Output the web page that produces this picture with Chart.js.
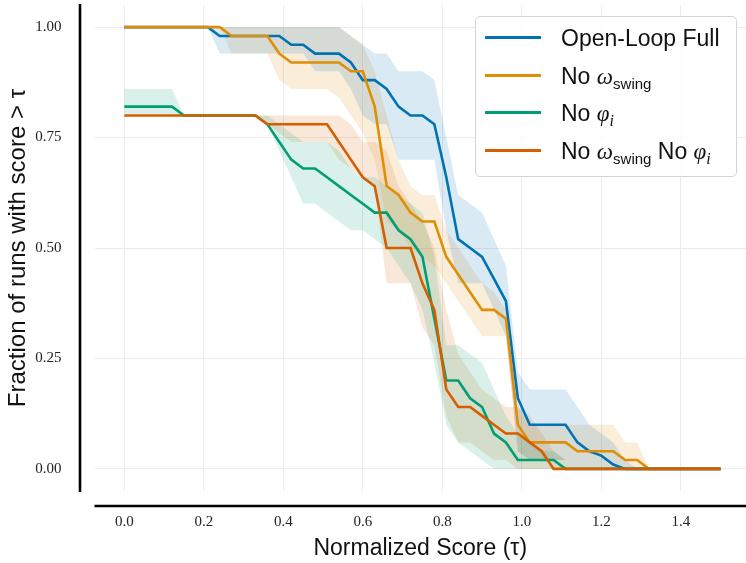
<!DOCTYPE html>
<html>
<head>
<meta charset="utf-8">
<script src="https://cdn.jsdelivr.net/npm/chart.js@4.4.1/dist/chart.umd.min.js"></script>
<style>
  body { margin: 0; background: #fff; }
  #wrap { position: relative; width: 746px; height: 563px; }
  #legend {
    position: absolute; left: 475px; top: 16px; width: 262px; height: 161px;
    box-sizing: border-box; border: 1px solid #d3d3d3; border-radius: 5px;
    background: rgba(255,255,255,0.85);
    font-family: "Liberation Sans", Arial, sans-serif; font-size: 23px; color: #111;
  }
  #legend .row { position: absolute; left: 0; height: 30px; width: 100%; }
  #legend .swatch { position: absolute; left: 9px; top: 13px; width: 56px; height: 3px; }
  #legend .txt { position: absolute; left: 85px; top: 1px; white-space: nowrap; line-height: 28px; }
  #legend i { font-family: "Liberation Serif", serif; font-style: italic; }
  #legend sub { font-size: 15px; vertical-align: -5px; line-height: 0; }
  #legend sub i { font-size: 16px; }
</style>
</head>
<body>
<div id="wrap">
  <canvas id="cdf" width="746" height="563"></canvas>
  <div id="legend"></div>
</div>
<script>
// score thresholds (tau)
var tau = [0.00, 0.03, 0.06, 0.09, 0.12, 0.15, 0.18, 0.21, 0.24, 0.27,
           0.30, 0.33, 0.36, 0.39, 0.42, 0.45, 0.48, 0.51, 0.54, 0.57,
           0.60, 0.63, 0.66, 0.69, 0.72, 0.75, 0.78, 0.81, 0.84, 0.87,
           0.90, 0.93, 0.96, 0.99, 1.02, 1.05, 1.08, 1.11, 1.14, 1.17,
           1.20, 1.23, 1.26, 1.29, 1.32, 1.35, 1.38, 1.41, 1.44, 1.47, 1.50];

var xTicks = [0.0, 0.2, 0.4, 0.6, 0.8, 1.0, 1.2, 1.4];
var yTicks = [0.00, 0.25, 0.50, 0.75, 1.00];

// Open-Loop Full
var fullMean = [1,1,1,1,1,1,1,1, 0.98,0.98,0.98,0.98,0.98,0.98, 0.96,0.96, 0.94,0.94,0.94, 0.92,
  0.88,0.88, 0.86, 0.82, 0.80,0.80, 0.78, 0.66, 0.52, 0.50, 0.48, 0.43, 0.38, 0.16,
  0.10,0.10,0.10,0.10, 0.06, 0.04, 0.03, 0.01, 0,0,0,0,0,0,0,0,0];
var fullHi = [1,1,1,1,1,1,1,1,1,1,1,1,1,1,1,1,1,1,1, 0.98, 0.96, 0.94,0.94, 0.90,0.90,0.90,
  0.88, 0.75, 0.62, 0.60, 0.58, 0.52, 0.46, 0.22, 0.18,0.18,0.18,0.18, 0.14, 0.10, 0.08, 0.06, 0.02,
  0,0,0,0,0,0,0,0];
var fullLo = [1,1,1,1,1,1,1,1, 0.94,0.94,0.94,0.94,0.94,0.94,0.94,0.94, 0.90,0.90,0.90, 0.86,
  0.80, 0.78,0.78, 0.70,0.70,0.70,0.70, 0.54, 0.42,0.42,0.42, 0.36, 0.30, 0.04,
  0.02,0.02,0.02,0.02, 0,0,0,0,0,0,0,0,0,0,0,0,0];

// No omega_swing
var noSwingMean = [1,1,1,1,1,1,1,1,1, 0.98,0.98,0.98,0.98, 0.94, 0.92,0.92,0.92,0.92,0.92,
  0.90,0.90, 0.82, 0.64, 0.62, 0.58, 0.56,0.56, 0.48, 0.44, 0.40, 0.36,0.36, 0.34, 0.10,
  0.06,0.06,0.06,0.06, 0.04,0.04,0.04,0.04, 0.02,0.02, 0,0,0,0,0,0,0];
var noSwingHi = [1,1,1,1,1,1,1,1,1,1,1,1,1,1,1,1,1,1,1, 0.98, 0.96, 0.90, 0.80, 0.70, 0.64,
  0.62,0.62, 0.54, 0.50, 0.46, 0.42, 0.40, 0.36, 0.14, 0.10,0.10,0.10,0.10,0.10,0.10,0.10,0.10,
  0.06,0.06, 0,0,0,0,0,0,0];
var noSwingLo = [1,1,1,1,1,1,1,1,1, 0.94,0.94,0.94,0.94, 0.88, 0.86,0.86,0.86,0.86, 0.84,
  0.80, 0.76, 0.70, 0.56, 0.54, 0.50, 0.48, 0.46, 0.42, 0.38, 0.34, 0.30,0.30,0.30, 0.04,
  0.02,0.02,0.02,0.02, 0,0,0,0,0,0,0,0,0,0,0,0,0];

// No phi_i
var noPhiMean = [0.82,0.82,0.82,0.82,0.82, 0.80,0.80,0.80,0.80,0.80,0.80,0.80, 0.78, 0.74,
  0.70, 0.68,0.68, 0.66, 0.64, 0.62, 0.60, 0.58,0.58, 0.54, 0.52, 0.48, 0.34, 0.20,0.20,
  0.16, 0.14, 0.08, 0.06, 0.02,0.02,0.02,0.02, 0,0,0,0,0,0,0,0,0,0,0,0,0,0];
var noPhiHi = [0.86,0.86,0.86,0.86,0.86, 0.80,0.80,0.80,0.80,0.80,0.80,0.80, 0.80, 0.78,
  0.76, 0.74,0.74,0.74, 0.72, 0.68, 0.66,0.66, 0.64, 0.62, 0.60, 0.58, 0.48, 0.28,0.28,
  0.26, 0.24, 0.18, 0.12, 0.08, 0.06, 0.04,0.04, 0.02, 0,0,0,0,0,0,0,0,0,0,0,0,0];
var noPhiLo = [0.80,0.80,0.80,0.80,0.80, 0.80,0.80,0.80,0.80,0.80,0.80,0.80, 0.78, 0.72,
  0.66, 0.60,0.60, 0.58, 0.56, 0.54,0.54, 0.52, 0.50, 0.46, 0.42, 0.36, 0.24, 0.10, 0.06,
  0.04, 0.02, 0,0,0,0,0,0,0,0,0,0,0,0,0,0,0,0,0,0,0,0];

// No omega_swing No phi_i
var noBothMean = [0.80,0.80,0.80,0.80,0.80,0.80,0.80,0.80,0.80,0.80,0.80,0.80,
  0.78,0.78,0.78,0.78,0.78,0.78, 0.74, 0.70, 0.66, 0.64, 0.50,0.50,0.50, 0.42, 0.36, 0.18,
  0.14,0.14, 0.12, 0.10, 0.08,0.08, 0.06, 0.04, 0,0,0,0,0,0,0,0,0,0,0,0,0,0,0];
var noBothHi = [0.80,0.80,0.80,0.80,0.80,0.80,0.80,0.80,0.80,0.80,0.80,0.80,0.80,0.80,
  0.80,0.80,0.80,0.80,0.80, 0.78, 0.74,0.74, 0.72, 0.64, 0.60, 0.56, 0.50, 0.36, 0.26, 0.22,
  0.18, 0.16, 0.14,0.14, 0.12, 0.08, 0.04, 0.02, 0,0,0,0,0,0,0,0,0,0,0,0,0];
var noBothLo = [0.80,0.80,0.80,0.80,0.80,0.80,0.80,0.80,0.80,0.80,0.80,0.80, 0.78, 0.76,
  0.74,0.74,0.74,0.74, 0.70, 0.68, 0.66, 0.64, 0.42,0.42,0.42, 0.32, 0.28, 0.12, 0.06,0.06,
  0.04, 0.02,0.02, 0,0,0,0,0,0,0,0,0,0,0,0,0,0,0,0,0,0];

var seriesLabels = ['Open-Loop Full', 'No ω_swing', 'No φ_i', 'No ω_swing No φ_i'];
var colors = ['#0173b2', '#de8f05', '#029e73', '#d55e00'];
var bandColors = ['rgba(1,115,178,0.15)', 'rgba(222,143,5,0.15)', 'rgba(2,158,115,0.15)', 'rgba(213,94,0,0.15)'];

function pts(arr) {
  return tau.map(function (t, i) { return { x: t, y: arr[i] }; });
}

// lines first in the list so they end up on top (red drawn last, like matplotlib)
var means = [fullMean, noSwingMean, noPhiMean, noBothMean];
var his = [fullHi, noSwingHi, noPhiHi, noBothHi];
var los = [fullLo, noSwingLo, noPhiLo, noBothLo];

var datasets = [];
for (var k = 3; k >= 0; k--) {
  datasets.push({
    label: seriesLabels[k],
    data: pts(means[k]),
    borderColor: colors[k],
    borderWidth: 2.6,
    pointRadius: 0,
    tension: 0,
    fill: false
  });
}
for (var k = 0; k < 4; k++) {
  datasets.push({
    label: seriesLabels[k] + ' lo',
    data: pts(los[k]),
    borderWidth: 0,
    borderColor: 'rgba(0,0,0,0)',
    pointRadius: 0,
    fill: false
  });
  datasets.push({
    label: seriesLabels[k] + ' hi',
    data: pts(his[k]),
    borderWidth: 0,
    borderColor: 'rgba(0,0,0,0)',
    backgroundColor: bandColors[k],
    pointRadius: 0,
    fill: '-1'
  });
}

// offset spines like seaborn despine(offset=...)
var spines = {
  id: 'spines',
  afterDraw: function (chart) {
    var ctx = chart.ctx, a = chart.chartArea;
    ctx.save();
    ctx.strokeStyle = '#000';
    ctx.lineWidth = 2.6;
    ctx.beginPath();
    ctx.moveTo(a.left - 14.5, a.top - 1);
    ctx.lineTo(a.left - 14.5, a.bottom + 1);
    ctx.moveTo(a.left, a.bottom + 15);
    ctx.lineTo(a.right, a.bottom + 15);
    ctx.stroke();
    ctx.restore();
  }
};

var chart = new Chart(document.getElementById('cdf'), {
  type: 'line',
  data: { datasets: datasets },
  plugins: [spines],
  options: {
    responsive: false,
    animation: false,
    devicePixelRatio: 1,
    layout: { autoPadding: false, padding: { top: 5, right: 0, bottom: 0, left: 0 } },
    plugins: {
      legend: { display: false },
      tooltip: { enabled: false }
    },
    scales: {
      x: {
        type: 'linear',
        min: -0.075,
        max: 1.564,
        afterBuildTicks: function (s) { s.ticks = xTicks.map(function (v) { return { value: v }; }); },
        afterFit: function (s) {
          s.height = 72;
          s.paddingLeft = 0; s.paddingRight = 0; s.paddingTop = 0; s.paddingBottom = 0;
        },
        border: { display: false },
        grid: { color: '#ebebeb', lineWidth: 1, drawTicks: false },
        ticks: {
          padding: 22,
          color: '#222',
          font: { family: 'Liberation Serif', size: 15 },
          callback: function (v) { return Number(v).toFixed(1); }
        },
        title: {
          display: true,
          text: 'Normalized Score (τ)',
          color: '#111',
          font: { family: 'Liberation Sans', size: 23 },
          padding: { top: 0, bottom: 1 }
        }
      },
      y: {
        min: -0.05,
        max: 1.05,
        afterBuildTicks: function (s) { s.ticks = yTicks.map(function (v) { return { value: v }; }); },
        afterFit: function (s) {
          s.width = 94.5;
          s.paddingLeft = 0; s.paddingRight = 0; s.paddingTop = 0; s.paddingBottom = 0;
        },
        border: { display: false },
        grid: { color: '#ebebeb', lineWidth: 1, drawTicks: false },
        ticks: {
          padding: 33,
          color: '#222',
          font: { family: 'Liberation Serif', size: 15 },
          callback: function (v) { return Number(v).toFixed(2); }
        },
        title: {
          display: true,
          text: 'Fraction of runs with score > τ',
          color: '#111',
          font: { family: 'Liberation Sans', size: 24 },
          padding: { top: 4, bottom: 0 }
        }
      }
    }
  }
});

// legend with math-style subscripts
function mathLabel(s) {
  return s.replace(/ω_swing/g, '<i>ω</i><sub>swing</sub>')
          .replace(/φ_i/g, '<i>φ</i><sub><i>i</i></sub>');
}
var legend = document.getElementById('legend');
for (var k = 0; k < seriesLabels.length; k++) {
  var row = document.createElement('div');
  row.className = 'row';
  row.style.top = (6 + k * 37.7) + 'px';
  row.innerHTML = '<div class="swatch" style="background:' + colors[k] + '"></div>' +
    '<div class="txt">' + mathLabel(seriesLabels[k]) + '</div>';
  legend.appendChild(row);
}
</script>
</body>
</html>
